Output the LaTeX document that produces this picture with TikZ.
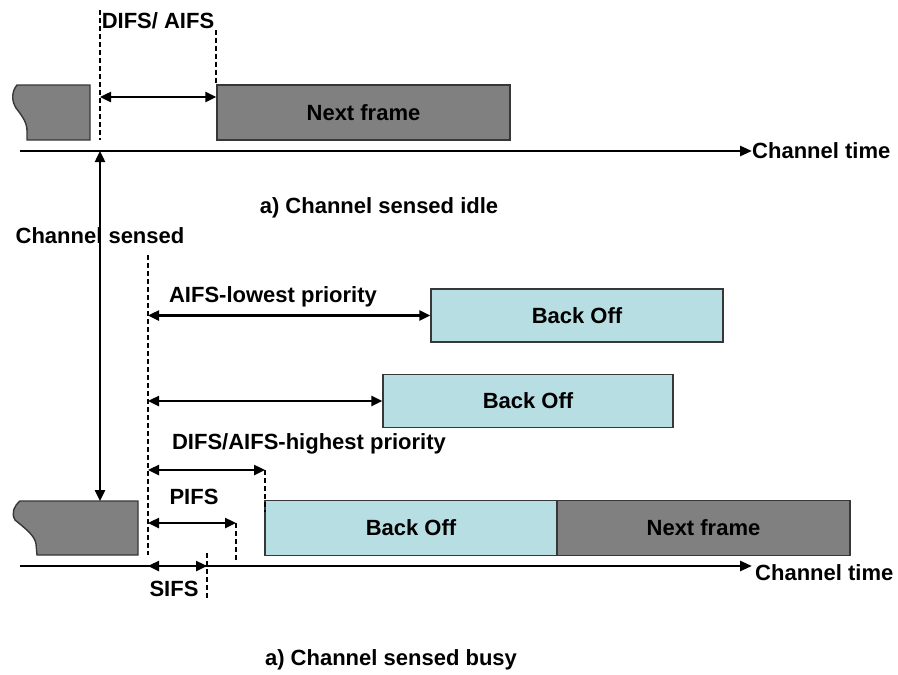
\documentclass[tikz,border=0pt]{standalone}
\usepackage{fontspec}
\setmainfont{Liberation Sans}
\usetikzlibrary{arrows.meta}
\definecolor{framegray}{RGB}{128,128,128}
\definecolor{boblue}{RGB}{183,222,226}
\definecolor{edgecol}{RGB}{55,55,55}
\newcommand\lblfont{\fontsize{22}{26}\selectfont\bfseries}
\tikzset{
  framebox/.style={draw=edgecol, fill=framegray, line width=1.4pt, inner sep=0pt, font=\lblfont},
  bobox/.style={framebox, fill=boblue},
  lbl/.style={font=\lblfont, inner sep=0pt},
  dimarrow/.style={{Triangle[length=11pt,width=10pt]}-{Triangle[length=11pt,width=10pt]}, line width=2.4pt},
  guide/.style={dash pattern=on 5pt off 3pt, line width=2pt},
  axisline/.style={-{Triangle[length=12pt,width=10pt]}, line width=2.6pt}
}
\begin{document}
\begin{tikzpicture}[x=1pt,y=-1pt]
\useasboundingbox (0,0) rectangle (898,675);
\fill[white] (0,0) rectangle (898,675);

% ---------- top part: channel sensed idle ----------
\draw[framebox] (90,85) -- (17,85) .. controls (12,91) and (11,100) .. (16,108)
  .. controls (23,117) and (27,123) .. (27,131) -- (27,140) -- (90,140) -- cycle;
\node[framebox, minimum width=293pt, minimum height=55pt] (topnext) at (363.5,112.5) {Next frame};

\coordinate (g1t) at (100,10);
\coordinate (g1b) at (100,140);
\coordinate (g2t) at (216,30);
\draw[guide] (g1t) -- (g1b);
\draw[guide] (g2t) -- (g2t |- topnext.north);
\node[lbl] (difs) at (158,21) {DIFS/ AIFS};

\coordinate (d1) at (100,97);
\draw[dimarrow] (d1) -- (d1 -| topnext.west);

\coordinate (ax1s) at (20,151);
\coordinate (ax1e) at (752,151);
\draw[axisline] (ax1s) -- (ax1e);
\node[lbl, anchor=west] (ct1) at (ax1e) {Channel time};

\node[lbl] (idle) at (379,208) {a) Channel sensed idle};
\node[lbl] (csensed) at (100,236) {Channel sensed};

% ---------- bottom part: channel sensed busy ----------
\draw[framebox] (138,501) -- (20,501) .. controls (14,506) and (11,513) .. (15,520)
  .. controls (26,529) and (35,536) .. (36,544) -- (37,555) -- (138,555) -- cycle;
\coordinate (bf) at (100,501);

\coordinate (cs1) at (100,151);
\draw[dimarrow] (cs1) -- (bf);

\node[bobox, minimum width=292pt, minimum height=53pt] (bo1) at (577,315.5) {Back Off};
\node[bobox, minimum width=290pt, minimum height=53pt] (bo2) at (528,401) {Back Off};
\node[bobox, minimum width=292pt, minimum height=55pt] (bo3) at (411,528) {Back Off};
\node[framebox, minimum width=293pt, minimum height=55pt] (botnext) at (703.5,528) {Next frame};

\coordinate (g3t) at (148,255);
\coordinate (g3b) at (148,555);
\draw[guide] (g3t) -- (g3b);

\node[lbl] (low) at (273,297) {AIFS-lowest priority};
\coordinate (l1) at (148,315.5);
\draw[dimarrow] (l1) -- (bo1.west);

\coordinate (l2) at (148,401);
\draw[dimarrow] (l2) -- (bo2.west);

\node[lbl] (high) at (309,444) {DIFS/AIFS-highest priority};
\coordinate (l3s) at (148,470);
\coordinate (l3e) at (265,470);
\coordinate (g4b) at (265,512);
\draw[dimarrow] (l3s) -- (l3e);
\draw[guide] (l3e) -- (g4b);

\node[lbl] (pifs) at (194,497) {PIFS};
\coordinate (l4s) at (148,523);
\coordinate (l4e) at (236,523);
\coordinate (g5b) at (236,560);
\draw[dimarrow] (l4s) -- (l4e);
\draw[guide] (l4e) -- (g5b);

\coordinate (ax2s) at (20,566);
\coordinate (ax2e) at (752,566);
\draw[axisline] (ax2s) -- (ax2e);
\node[lbl, anchor=west] (ct2) at (755,573) {Channel time};

\coordinate (l5s) at (148,566);
\coordinate (l5e) at (207,566);
\coordinate (g6t) at (207,553);
\coordinate (g6b) at (207,600);
\draw[dimarrow] (l5s) -- (l5e);
\draw[guide] (g6t) -- (g6b);
\node[lbl] (sifs) at (174,589) {SIFS};

\node[lbl] (busy) at (391,660) {a) Channel sensed busy};
\end{tikzpicture}
\end{document}
